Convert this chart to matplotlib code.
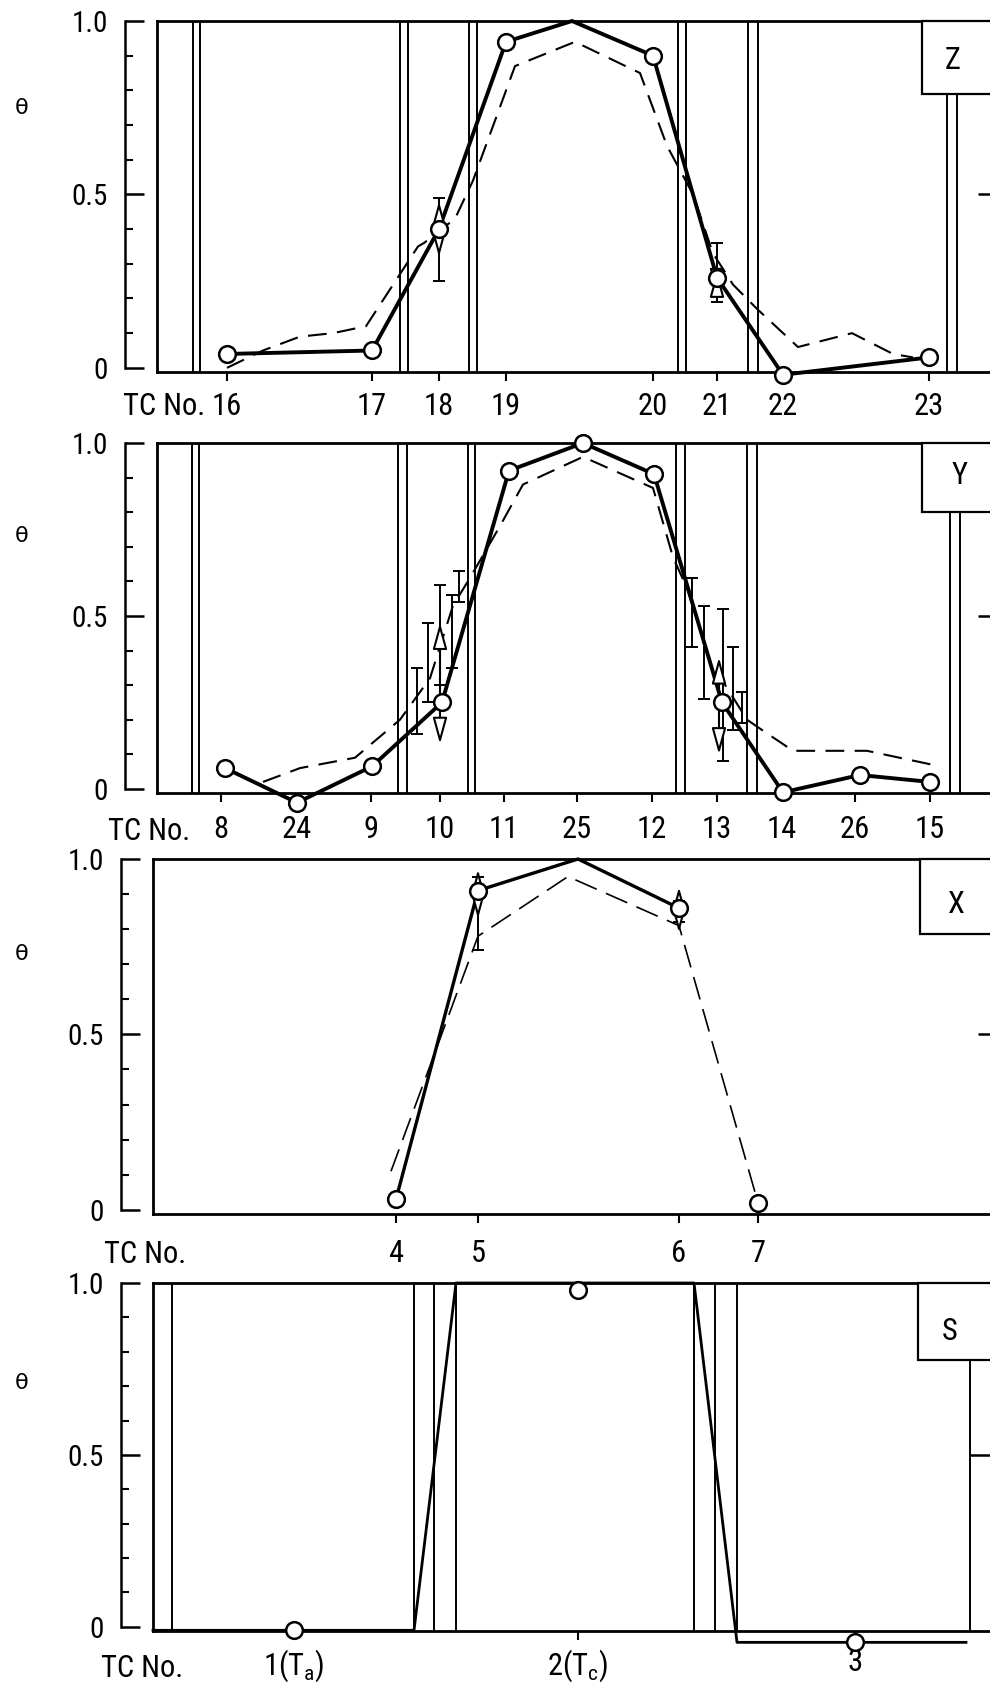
import matplotlib
matplotlib.use('Agg')
import matplotlib.pyplot as plt
import matplotlib.transforms as mtransforms
import matplotlib.font_manager as fm
from matplotlib.patches import Rectangle
from matplotlib.ticker import MultipleLocator

# pick a narrow face if one is installed
fonts = fm.fontManager.ttflist
names = {f.name for f in fonts}
stretch = 'normal'
if 'Roboto Condensed' in names:
    FACE = 'Roboto Condensed'
elif 'Liberation Sans Narrow' in names:
    FACE = 'Liberation Sans Narrow'
else:
    FACE = 'Roboto'
plt.rcParams['font.family'] = [FACE, 'DejaVu Sans']
plt.rcParams['mathtext.fontset'] = 'custom'
plt.rcParams['mathtext.rm'] = FACE
plt.rcParams['mathtext.it'] = FACE + ':italic'

W, H = 990, 1693
PT = 0.72          # points per pixel at 100 dpi
Y0 = -0.012        # bottom of the box, a bit under theta = 0

# ---- panel Z ----
z_labels = ['16', '17', '18', '19', '20', '21', '22', '23']
z_pos = [7.0, 21.5, 28.2, 34.9, 49.6, 56.0, 62.6, 77.2]
z_meas = [0.04, 0.05, 0.40, 0.94, 0.90, 0.26, -0.02, 0.03]
z_solid_x = [7.0, 21.5, 28.2, 34.9, 41.5, 49.6, 56.0, 62.6, 77.2]
z_solid_y = [0.04, 0.05, 0.40, 0.94, 1.00, 0.90, 0.26, -0.02, 0.03]
z_dash_x = [7.0, 10.6, 14.3, 17.6, 20.9, 26.1, 26.7, 29.8, 31.6, 35.8, 41.8,
            48.3, 51.0, 53.6, 55.6, 57.6, 60.0, 64.1, 69.5, 73.6, 75.6]
z_dash_y = [0.0, 0.05, 0.09, 0.10, 0.12, 0.35, 0.36, 0.43, 0.54, 0.87, 0.94,
            0.85, 0.64, 0.50, 0.33, 0.24, 0.17, 0.06, 0.10, 0.04, 0.03]
z_walls = [3.6, 4.3, 24.3, 25.1, 31.2, 32.0, 52.1, 52.9, 59.1, 60.1]
z_walls_short = [79.0, 80.0]
z_bars = [(28.2, 0.25, 0.49), (56.0, 0.19, 0.36)]
z_arrows = [(28.2, 0.32, 0.48), (56.0, 0.21, 0.28)]

# ---- panel Y ----
y_labels = ['8', '24', '9', '10', '11', '25', '12', '13', '14', '26', '15']
y_pos = [6.4, 14.0, 21.4, 28.3, 34.7, 42.0, 49.5, 56.0, 62.5, 69.8, 77.3]
y_meas_x = [6.8, 14.0, 21.5, 28.5, 35.2, 42.6, 49.7, 56.5, 62.6, 70.3, 77.3]
y_meas = [0.06, -0.04, 0.065, 0.25, 0.92, 1.0, 0.91, 0.25, -0.01, 0.04, 0.02]
y_dash_x = [10.6, 14.3, 19.8, 24.3, 27.3, 29.6, 31.3, 34.3, 36.6, 42.6, 49.6,
            51.6, 53.0, 55.3, 59.0, 60.0, 63.6, 71.0, 77.5]
y_dash_y = [0.02, 0.06, 0.09, 0.20, 0.32, 0.53, 0.61, 0.76, 0.88, 0.96, 0.87,
            0.67, 0.58, 0.37, 0.20, 0.18, 0.11, 0.11, 0.07]
y_walls = [3.5, 4.2, 24.1, 25.0, 31.1, 31.8, 51.9, 52.8, 59.0, 60.0]
y_walls_short = [79.3, 80.3]
y_bars = [(26.0, 0.16, 0.35), (27.1, 0.25, 0.48), (28.3, 0.30, 0.59),
          (29.5, 0.35, 0.56), (30.2, 0.54, 0.63), (53.5, 0.41, 0.61),
          (54.7, 0.26, 0.53), (56.6, 0.08, 0.52), (57.6, 0.17, 0.41),
          (58.5, 0.19, 0.28)]
y_arrows = [(28.3, 0.13, 0.48), (56.2, 0.10, 0.38)]

# ---- panel X ----
x_labels = ['4', '5', '6', '7']
x_pos = [24.3, 32.5, 52.6, 60.5]
x_meas = [0.03, 0.91, 0.86, 0.02]
x_solid_x = [24.3, 32.5, 42.5, 52.6]
x_solid_y = [0.03, 0.91, 1.00, 0.86]
x_dash_x = [23.8, 32.5, 41.5, 52.6, 60.5]
x_dash_y = [0.11, 0.78, 0.95, 0.81, 0.02]
x_bars = [(32.5, 0.74, 0.95), (52.6, 0.82, 0.88)]
x_arrows = [(32.5, 0.83, 0.97), (52.6, 0.79, 0.92)]

# ---- panel S ----
s_labels = [r'1(T$_\mathrm{a}$)', r'2(T$_\mathrm{c}$)', '3']
s_pos = [14.1, 42.5, 70.2]
s_meas = [-0.01, 0.98, -0.045]
s_solid_x = [0.0, 26.1, 30.3, 54.1, 58.4, 81.3]
s_solid_y = [-0.01, -0.01, 1.0, 1.0, -0.045, -0.045]
s_walls = [1.9, 26.1, 28.1, 30.3, 54.1, 56.2, 58.4]
s_walls_short = [81.7]


def panel(fig, box, labels, pos, meas_x, meas_y, solid_x, solid_y,
          dash_x=None, dash_y=None, walls=(), walls_short=(), bars=(), arrows=(),
          tag='', tag_box=(76.5, 0.79), tag_xy=(79.6, 0.88), lw=2.8, dash_lw=1.5,
          dashes=(9, 5), pad_px=5, tc=(123, 415, 'left'), theta_y=0.74, tick_r=22):
    left, top, bottom = box
    ax = fig.add_axes([left / W, 1 - bottom / H, (1000 - left) / W, (bottom - top) / H])
    ax.set_xlim(0, (1000 - left) / 10)
    ax.set_ylim(Y0, 1.0)

    for s in ('top', 'bottom', 'right'):
        ax.spines[s].set_linewidth(2.0)
    ax.spines['left'].set_position(('outward', 32 * PT))
    ax.spines['left'].set_bounds(0, 1)
    ax.spines['left'].set_linewidth(1.8)
    ax.axvline(0, color='k', lw=2.0, clip_on=False)

    ax.set_yticks([0, 0.5, 1.0])
    ax.set_yticklabels(['0', '0.5', '1.0'], fontsize=21)
    ax.yaxis.set_minor_locator(MultipleLocator(0.1))
    ax.tick_params(axis='y', which='major', direction='in', length=19 * PT,
                   width=1.8, pad=17 * PT)
    ax.tick_params(axis='y', which='minor', direction='in', length=8 * PT, width=1.5)
    ax.set_xticks(pos)
    ax.set_xticklabels(labels, fontsize=22)
    ax.tick_params(axis='x', direction='out', length=9 * PT, width=1.5, pad=pad_px * PT)

    frac = (tag_box[1] - Y0) / (1 - Y0)
    for w in walls:
        ax.axvline(w, color='k', lw=1.4)
    for w in walls_short:
        ax.axvline(w, ymax=frac, color='k', lw=1.4)
    ax.add_patch(Rectangle(tag_box, 25, 1.0 - tag_box[1], fc='white', ec='k',
                           lw=1.6, clip_on=False, zorder=3))
    ax.text(tag_xy[0], tag_xy[1], tag, ha='center', va='center', fontsize=22, zorder=4)

    if dash_x is not None:
        ax.plot(dash_x, dash_y, color='k', lw=dash_lw, dashes=dashes,
                clip_on=False, zorder=4)
    ax.plot(solid_x, solid_y, color='k', lw=lw, clip_on=False, zorder=5)
    for x, lo, hi in bars:
        ax.errorbar(x, (lo + hi) / 2, yerr=(hi - lo) / 2, fmt='none', ecolor='k',
                    elinewidth=1.4, capsize=4, capthick=1.4, zorder=6)
    for x, lo, hi in arrows:
        ax.annotate('', xy=(x, hi), xytext=(x, lo), zorder=6,
                    arrowprops=dict(arrowstyle='<|-|>,head_length=0.8,head_width=0.22',
                                    fc='white', ec='k', lw=1.5, mutation_scale=20,
                                    shrinkA=0, shrinkB=0))
    ax.plot(meas_x, meas_y, 'o', ms=12, mfc='white', mec='k', mew=1.8,
            clip_on=False, zorder=7)

    ax2 = ax.twinx()
    ax2.set_ylim(Y0, 1.0)
    ax2.set_yticks([0.5])
    ax2.set_yticklabels([])
    ax2.tick_params(axis='y', direction='in', length=tick_r * PT, width=1.8)
    for s in ax2.spines.values():
        s.set_visible(False)

    trans = mtransforms.blended_transform_factory(fig.transFigure, ax.transData)
    ax.text(22 / W, theta_y, 'θ', transform=trans, fontsize=16,
            family='DejaVu Sans', ha='center', va='center')
    fig.text(tc[0] / W, 1 - tc[1] / H, 'TC No.', fontsize=22, ha=tc[2], va='baseline')
    return ax


fig = plt.figure(figsize=(W / 100, H / 100), dpi=100)

panel(fig, (157, 21, 372), z_labels, z_pos, z_pos, z_meas, z_solid_x, z_solid_y,
      z_dash_x, z_dash_y, z_walls, z_walls_short, z_bars, z_arrows,
      tag='Z', tag_box=(76.5, 0.79), tag_xy=(79.6, 0.885), pad_px=11,
      tc=(205, 415, 'right'), theta_y=0.75)

panel(fig, (157, 443, 793), y_labels, y_pos, y_meas_x, y_meas, y_meas_x, y_meas,
      y_dash_x, y_dash_y, y_walls, y_walls_short, y_bars, y_arrows,
      tag='Y', tag_box=(76.5, 0.80), tag_xy=(80.3, 0.905), pad_px=13,
      tc=(108, 840, 'left'), theta_y=0.73)

panel(fig, (153, 859, 1214), x_labels, x_pos, x_pos, x_meas, x_solid_x, x_solid_y,
      x_dash_x, x_dash_y, (), (), x_bars, x_arrows,
      tag='X', tag_box=(76.7, 0.785), tag_xy=(80.3, 0.87), lw=2.4, dash_lw=1.2,
      dashes=(14, 6), pad_px=16, tc=(104, 1263, 'left'), theta_y=0.73)

panel(fig, (153, 1283, 1631), s_labels, s_pos, s_pos, s_meas, s_solid_x, s_solid_y,
      None, None, s_walls, s_walls_short, (), (),
      tag='S', tag_box=(76.5, 0.775), tag_xy=(79.7, 0.86), lw=2.0,
      pad_px=8, tc=(101, 1677, 'left'), theta_y=0.71, tick_r=30)

fig.savefig('out.png', dpi=100)
